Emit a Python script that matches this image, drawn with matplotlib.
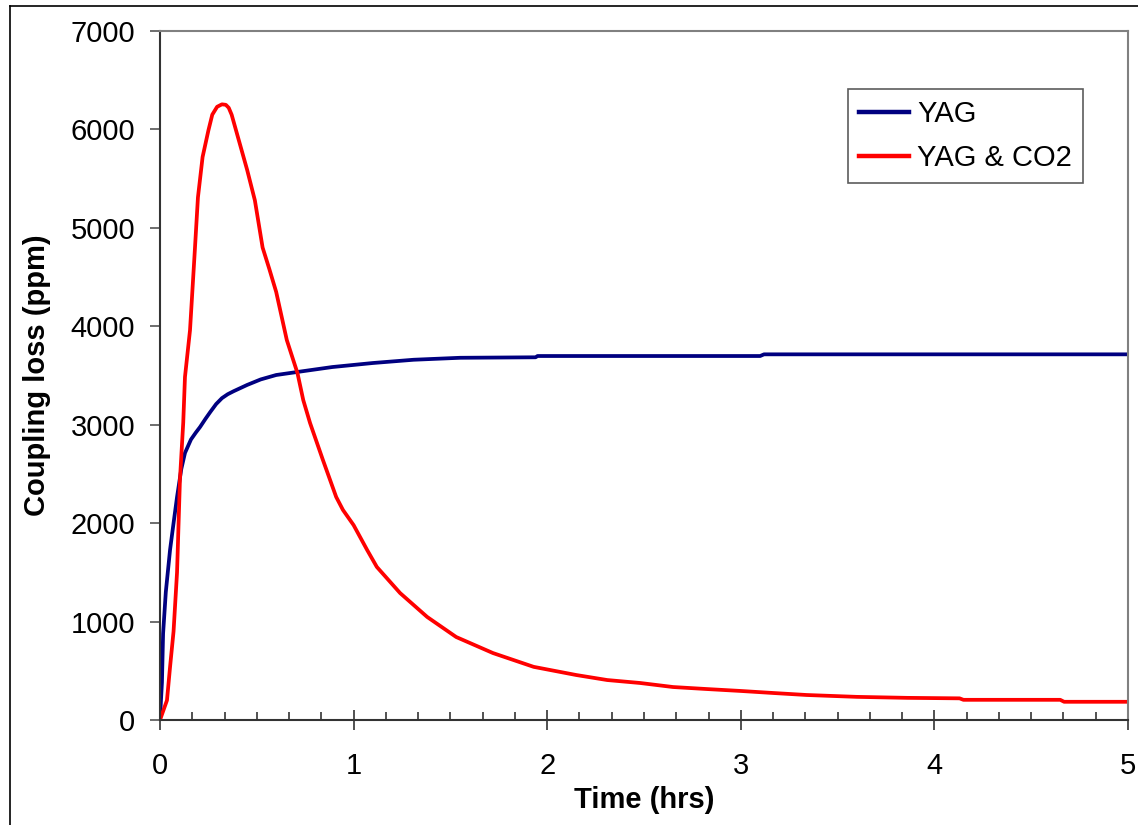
import matplotlib.pyplot as plt
from matplotlib.lines import Line2D
from matplotlib.ticker import MultipleLocator

plt.rcParams['font.family'] = ['Liberation Sans', 'DejaVu Sans']

# time (hrs) and coupling loss (ppm)
yag_t = [0, 0.005, 0.01, 0.016, 0.03, 0.052, 0.07, 0.088, 0.11, 0.129, 0.16,
         0.185, 0.207, 0.235, 0.26, 0.29, 0.32, 0.35, 0.38, 0.45, 0.52, 0.60,
         0.71, 0.89, 1.10, 1.31, 1.55, 1.94, 1.95, 3.10, 3.12, 5.0]
yag_loss = [0, 200, 380, 880, 1300, 1730, 2000, 2265, 2550, 2713, 2850,
            2920, 2977, 3060, 3130, 3210, 3270, 3310, 3340, 3404, 3460, 3505,
            3536, 3586, 3627, 3660, 3680, 3685, 3698, 3698, 3715, 3715]

co2_t = [0, 0.036, 0.052, 0.07, 0.088, 0.103, 0.12, 0.129, 0.155, 0.18, 0.196,
         0.22, 0.25, 0.27, 0.295, 0.32, 0.34, 0.355, 0.37, 0.41, 0.45, 0.49,
         0.53, 0.565, 0.60, 0.655, 0.71, 0.74, 0.775, 0.84, 0.91, 0.945, 1.0,
         1.07, 1.12, 1.24, 1.38, 1.53, 1.72, 1.93, 2.15, 2.31, 2.48, 2.65,
         2.82, 3.0, 3.17, 3.34, 3.6, 3.86, 4.13, 4.15, 4.65, 4.67, 5.0]
co2_loss = [0, 200, 540, 900, 1500, 2440, 3020, 3485, 3960, 4775, 5310,
            5720, 5990, 6150, 6230, 6255, 6250, 6220, 6150, 5870, 5590, 5280,
            4800, 4580, 4350, 3860, 3525, 3250, 3018, 2650, 2266, 2134, 1980,
            1727, 1555, 1290, 1047, 843, 680, 540, 457, 406, 376, 335,
            315, 295, 274, 254, 235, 225, 220, 205, 205, 185, 185]

W, H = 1138, 825
fig = plt.figure(figsize=(W / 100, H / 100), dpi=100)
ax = fig.add_axes([160 / W, 1 - 720 / H, (1128 - 160) / W, (720 - 31) / H])

ax.plot(yag_t, yag_loss, color='#000080', lw=2.7, label='YAG')
ax.plot(co2_t, co2_loss, color='#FF0000', lw=2.7, label='YAG & CO2')

ax.set_xlim(0, 5)
ax.set_ylim(0, 7000)
ax.xaxis.set_major_locator(MultipleLocator(1))
ax.xaxis.set_minor_locator(MultipleLocator(1 / 6))
ax.yaxis.set_major_locator(MultipleLocator(1000))

ax.tick_params(axis='x', which='major', direction='inout', length=14, width=1.2,
               color='#333333', labelsize=21, pad=16)
ax.tick_params(axis='x', which='minor', direction='in', length=6, width=1.2,
               color='#333333')
ax.tick_params(axis='y', which='major', direction='out', length=7, width=1.2,
               color='#555555', labelsize=21, pad=11)

for side in ['top', 'right']:
    ax.spines[side].set_color('#808080')
    ax.spines[side].set_linewidth(1.5)
for side in ['left', 'bottom']:
    ax.spines[side].set_color('#333333')
    ax.spines[side].set_linewidth(1.5)

ax.set_xlabel('Time (hrs)', fontsize=21, fontweight='bold', labelpad=4)
ax.set_ylabel('Coupling loss (ppm)', fontsize=21, fontweight='bold', labelpad=14)

leg = ax.legend(loc='upper left', bbox_to_anchor=((848 - 160) / 968, 1 - (89 - 31) / 689),
                fontsize=21, frameon=True, fancybox=False, handlelength=1.7,
                borderaxespad=0, borderpad=0.38, labelspacing=0.55, handletextpad=0.28)
leg.get_frame().set_edgecolor('#333333')
leg.get_frame().set_linewidth(1.2)
for line in leg.get_lines():
    line.set_linewidth(3.2)

# outer chart border (only left and top edges are visible in the crop)
fig.add_artist(Line2D([10 / W, 10 / W], [0, 1 - 6 / H], color='black', lw=1.2))
fig.add_artist(Line2D([10 / W, 1], [1 - 6 / H, 1 - 6 / H], color='black', lw=1.2))

fig.savefig('out.png', dpi=100)
